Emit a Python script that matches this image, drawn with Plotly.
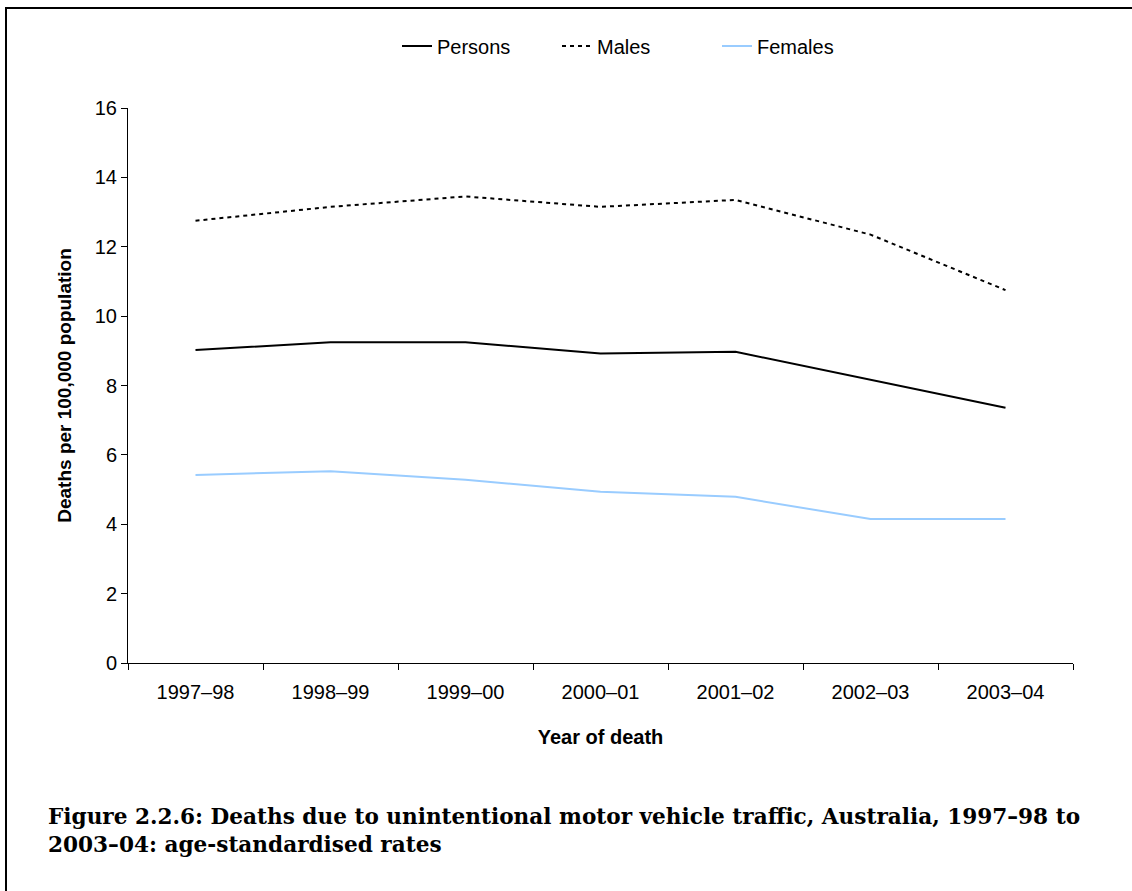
import plotly.graph_objects as go

years = ["1997–98", "1998–99", "1999–00", "2000–01", "2001–02", "2002–03", "2003–04"]
persons = [9.02, 9.25, 9.25, 8.92, 8.97, 8.17, 7.36]
males = [12.75, 13.15, 13.45, 13.15, 13.35, 12.35, 10.75]
females = [5.42, 5.53, 5.28, 4.94, 4.79, 4.15, 4.15]

W, H = 1132, 891
L, R, T, B = 128, 59, 108, 228
pw, ph = W - L - R, H - T - B

def px_x(px):
    return (px - L) / pw

def px_y(py):
    return (H - B - py) / ph

fig = go.Figure()
fig.add_trace(go.Scatter(x=years, y=persons, name="Persons", mode="lines",
                         line=dict(color="black", width=2)))
fig.add_trace(go.Scatter(x=years, y=males, name="Males", mode="lines",
                         line=dict(color="black", width=2, dash="4px,4px")))
fig.add_trace(go.Scatter(x=years, y=females, name="Females", mode="lines",
                         line=dict(color="#99CCFF", width=2)))

font = "Liberation Sans, Arial, sans-serif"
fs = 20
fig.update_layout(
    width=W, height=H,
    margin=dict(l=L, r=R, t=T, b=B),
    paper_bgcolor="white", plot_bgcolor="white",
    font=dict(family=font, size=fs, color="black"),
    showlegend=True,
    legend=dict(orientation="h", x=px_x(397), xanchor="left", y=px_y(46), yanchor="middle",
                font=dict(size=fs, family=font), entrywidth=115, entrywidthmode="pixels",
                bgcolor="rgba(0,0,0,0)"),
    xaxis=dict(
        type="category", range=[-0.5, 6.5], showline=True, linecolor="black", linewidth=1,
        ticks="outside", ticklen=6, tickcolor="black", tickson="boundaries",
        showgrid=False, zeroline=False, mirror=False, ticklabelstandoff=11,
        tickfont=dict(size=fs, family=font),
        title=dict(text="<b>Year of death</b>", font=dict(size=fs, family=font), standoff=27),
    ),
    yaxis=dict(
        range=[0, 16], dtick=2, showline=True, linecolor="black", linewidth=1,
        ticks="outside", ticklen=6, tickcolor="black",
        showgrid=False, zeroline=False,
        tickfont=dict(size=fs, family=font),
        title=dict(text="<b>Deaths per 100,000 population</b>", font=dict(size=19, family=font), standoff=18),
    ),
)

# page frame lines (left and top)
fig.add_shape(type="line", xref="paper", yref="paper",
              x0=px_x(6), x1=px_x(6), y0=px_y(8), y1=px_y(H + 5),
              line=dict(color="black", width=2))
fig.add_shape(type="line", xref="paper", yref="paper",
              x0=px_x(5), x1=px_x(W + 5), y0=px_y(8), y1=px_y(8),
              line=dict(color="black", width=2))

fig.add_annotation(
    xref="paper", yref="paper", x=px_x(46), y=px_y(802), xanchor="left", yanchor="top",
    align="left", showarrow=False,
    text="<b>Figure 2.2.6: Deaths due to unintentional motor vehicle traffic, Australia, 1997–98 to<br>2003–04: age-standardised rates</b>",
    font=dict(family="DejaVu Serif, Liberation Serif, serif", size=21.6, color="black"),
)

fig.write_html("out.html", config={"displayModeBar": False},
               post_script="document.body.style.margin='0';document.body.style.overflow='hidden';")
